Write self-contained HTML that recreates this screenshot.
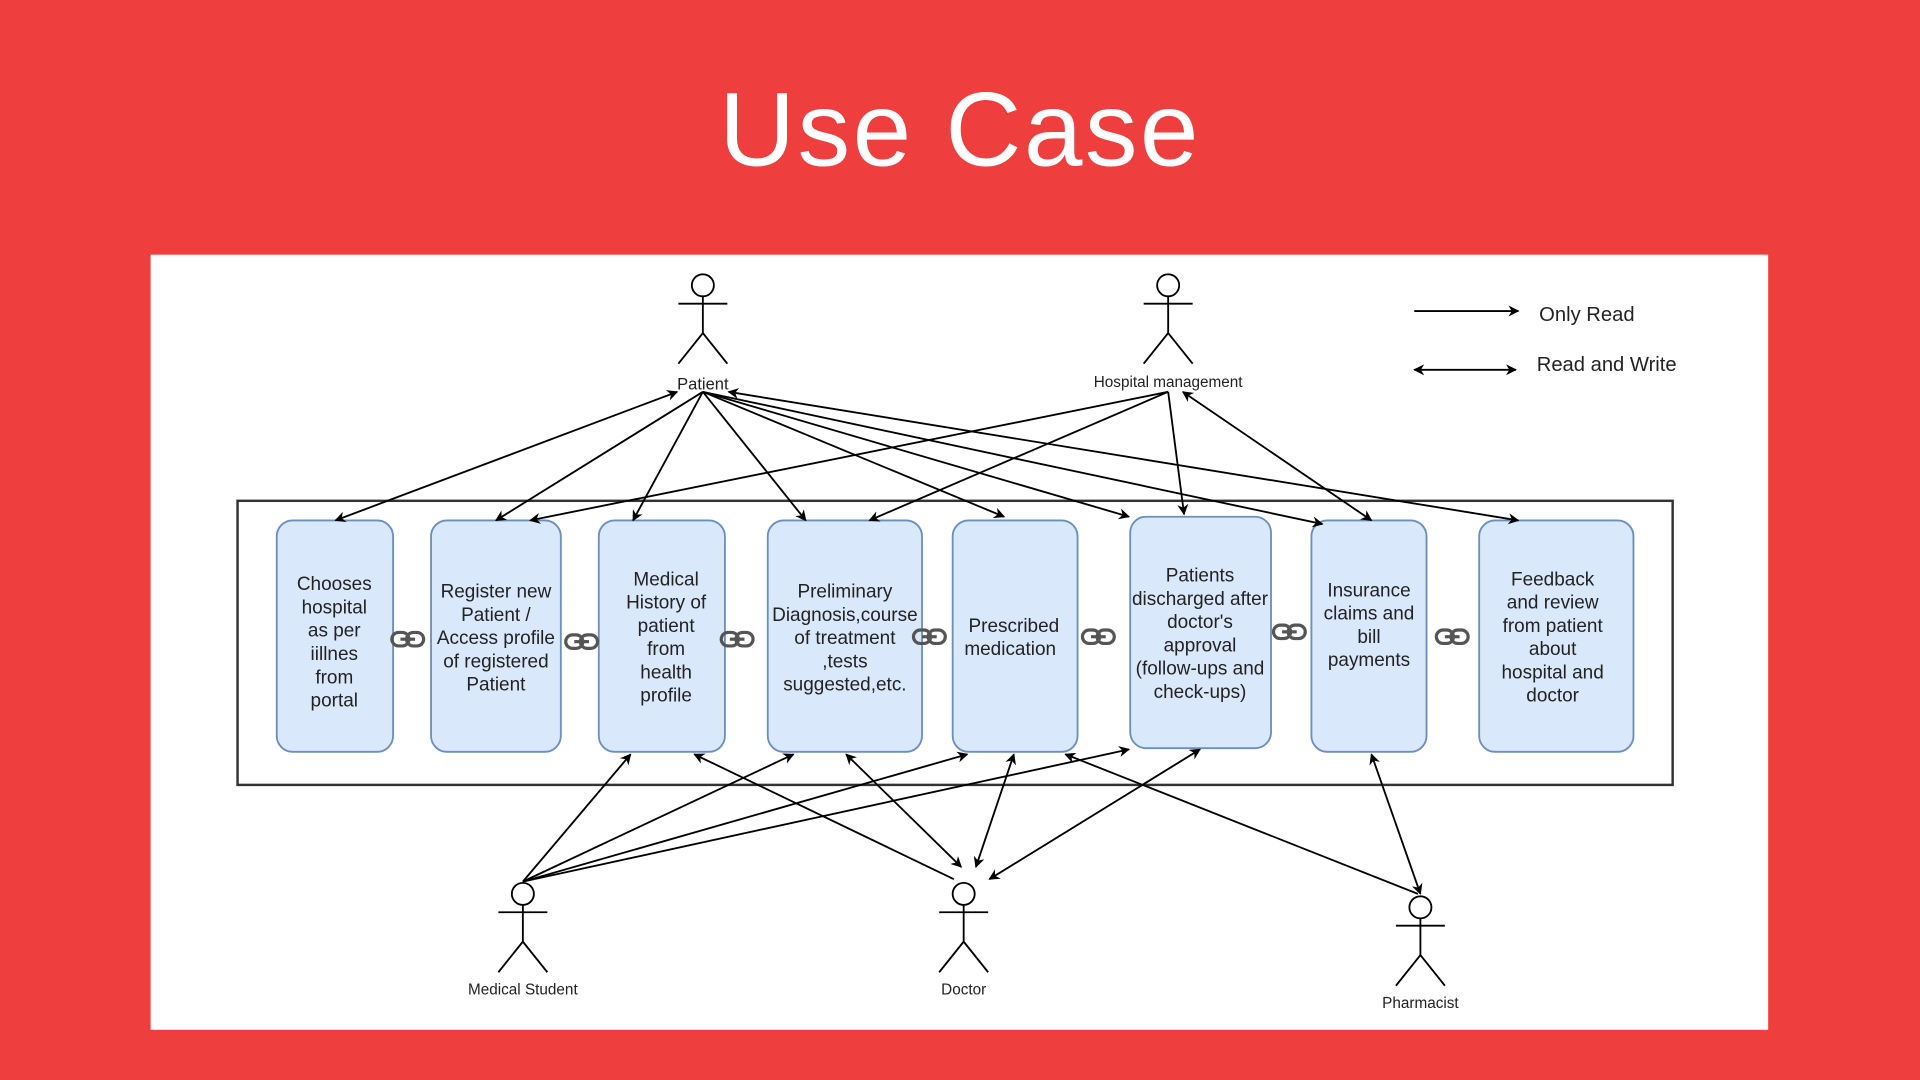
<!DOCTYPE html>
<html><head><meta charset="utf-8"><style>
html,body{margin:0;padding:0;background:#ee3e3e;}
svg{display:block}
</style></head><body>
<svg width="1920" height="1080" viewBox="0 0 1568 882" xmlns="http://www.w3.org/2000/svg" font-family="Liberation Sans, Arial, sans-serif">
<defs>
<marker id="a" viewBox="0 0 10 10" refX="9" refY="5" markerWidth="9" markerHeight="9" orient="auto-start-reverse" markerUnits="userSpaceOnUse"><path d="M0,0 L10,5 L0,10 L3,5 z" fill="#000"/></marker>
<g id="lk"><rect x="-13" y="-5.5" width="14" height="11" rx="5.5" fill="none" stroke="#555" stroke-width="2.6"/><rect x="-1" y="-5.5" width="14" height="11" rx="5.5" fill="none" stroke="#555" stroke-width="2.6"/><line x1="-6" y1="0" x2="6" y2="0" stroke="#555" stroke-width="2.6"/></g>
</defs>
<rect width="1568" height="882" fill="#ee3e3e"/>
<text x="784" y="135" text-anchor="middle" font-size="86" fill="#fff" letter-spacing="2">Use Case</text>
<rect x="123" y="208" width="1321" height="633" fill="#fff"/>
<rect x="194" y="409" width="1172" height="232" fill="none" stroke="#333" stroke-width="2"/>
<g fill="#dae8fc" stroke="#6c8ebf" stroke-width="1.5">
<rect x="226" y="425" width="95" height="189" rx="13"/>
<rect x="352" y="425" width="106" height="189" rx="13"/>
<rect x="489" y="425" width="103" height="189" rx="13"/>
<rect x="627" y="425" width="126" height="189" rx="13"/>
<rect x="778" y="425" width="102" height="189" rx="13"/>
<rect x="923" y="422" width="115" height="189" rx="13"/>
<rect x="1071" y="425" width="94" height="189" rx="13"/>
<rect x="1208" y="425" width="126" height="189" rx="13"/>
</g>
<g font-size="15.5" fill="#222" text-anchor="middle">
<text x="273" y="482">Chooses<tspan x="273" dy="19">hospital</tspan><tspan x="273" dy="19">as per</tspan><tspan x="273" dy="19">iillnes</tspan><tspan x="273" dy="19">from</tspan><tspan x="273" dy="19">portal</tspan></text>
<text x="405" y="488">Register new<tspan x="405" dy="19">Patient /</tspan><tspan x="405" dy="19">Access profile</tspan><tspan x="405" dy="19">of registered</tspan><tspan x="405" dy="19">Patient</tspan></text>
<text x="544" y="478">Medical<tspan x="544" dy="19">History of</tspan><tspan x="544" dy="19">patient</tspan><tspan x="544" dy="19">from</tspan><tspan x="544" dy="19">health</tspan><tspan x="544" dy="19">profile</tspan></text>
<text x="690" y="488">Preliminary<tspan x="690" dy="19">Diagnosis,course</tspan><tspan x="690" dy="19">of treatment</tspan><tspan x="690" dy="19">,tests</tspan><tspan x="690" dy="19">suggested,etc.</tspan></text>
<text x="828" y="516">Prescribed<tspan x="825" dy="19">medication</tspan></text>
<text x="980" y="475">Patients<tspan x="980" dy="19">discharged after</tspan><tspan x="980" dy="19">doctor's</tspan><tspan x="980" dy="19">approval</tspan><tspan x="980" dy="19">(follow-ups and</tspan><tspan x="980" dy="19">check-ups)</tspan></text>
<text x="1118" y="487">Insurance<tspan x="1118" dy="19">claims and</tspan><tspan x="1118" dy="19">bill</tspan><tspan x="1118" dy="19">payments</tspan></text>
<text x="1268" y="478">Feedback<tspan x="1268" dy="19">and review</tspan><tspan x="1268" dy="19">from patient</tspan><tspan x="1268" dy="19">about</tspan><tspan x="1268" dy="19">hospital and</tspan><tspan x="1268" dy="19">doctor</tspan></text>
</g>
<use href="#lk" x="333" y="522"/><use href="#lk" x="475" y="524"/><use href="#lk" x="602" y="522"/><use href="#lk" x="759" y="520"/><use href="#lk" x="897" y="520"/><use href="#lk" x="1053" y="516"/><use href="#lk" x="1186" y="520"/>
<g stroke="#000" stroke-width="1.5" fill="none">
<g transform="translate(574,233)"><circle r="9"/><path d="M0,9V39M-20,15H20M0,39L-20,64M0,39L20,64"/></g>
<g transform="translate(954,233)"><circle r="9"/><path d="M0,9V39M-20,15H20M0,39L-20,64M0,39L20,64"/></g>
<g transform="translate(427,730)"><circle r="9"/><path d="M0,9V39M-20,15H20M0,39L-20,64M0,39L20,64"/></g>
<g transform="translate(787,730)"><circle r="9"/><path d="M0,9V39M-20,15H20M0,39L-20,64M0,39L20,64"/></g>
<g transform="translate(1160,741)"><circle r="9"/><path d="M0,9V39M-20,15H20M0,39L-20,64M0,39L20,64"/></g>
</g>
<g font-size="12.5" fill="#222" text-anchor="middle">
<text x="574" y="318" font-size="13.5">Patient</text>
<text x="954" y="316">Hospital management</text>
<text x="427" y="812">Medical Student</text>
<text x="787" y="812">Doctor</text>
<text x="1160" y="823">Pharmacist</text>
</g>
<g stroke="#000" stroke-width="1.5" fill="none">
<line x1="1155" y1="254" x2="1240" y2="254" marker-end="url(#a)"/>
<line x1="1155" y1="302" x2="1238" y2="302" marker-start="url(#a)" marker-end="url(#a)"/>
<line x1="553" y1="320" x2="274" y2="425" marker-start="url(#a)" marker-end="url(#a)"/>
<line x1="574" y1="320" x2="405" y2="425" marker-end="url(#a)"/>
<line x1="574" y1="320" x2="517" y2="425" marker-end="url(#a)"/>
<line x1="574" y1="320" x2="658" y2="425" marker-end="url(#a)"/>
<line x1="574" y1="320" x2="820" y2="422" marker-end="url(#a)"/>
<line x1="574" y1="320" x2="922" y2="422" marker-end="url(#a)"/>
<line x1="574" y1="320" x2="1080" y2="428" marker-end="url(#a)"/>
<line x1="595" y1="320" x2="1240" y2="425" marker-start="url(#a)" marker-end="url(#a)"/>
<line x1="954" y1="320" x2="433" y2="425" marker-end="url(#a)"/>
<line x1="954" y1="320" x2="710" y2="425" marker-end="url(#a)"/>
<line x1="954" y1="320" x2="967" y2="420" marker-end="url(#a)"/>
<line x1="966" y1="320" x2="1120" y2="425" marker-start="url(#a)" marker-end="url(#a)"/>
<line x1="427" y1="720" x2="515" y2="616" marker-end="url(#a)"/>
<line x1="427" y1="720" x2="648" y2="616" marker-end="url(#a)"/>
<line x1="427" y1="720" x2="790" y2="616" marker-end="url(#a)"/>
<line x1="427" y1="720" x2="922" y2="612" marker-end="url(#a)"/>
<line x1="779" y1="718" x2="567" y2="616" marker-end="url(#a)"/>
<line x1="785" y1="708" x2="691" y2="616" marker-start="url(#a)" marker-end="url(#a)"/>
<line x1="797" y1="708" x2="828" y2="616" marker-start="url(#a)" marker-end="url(#a)"/>
<line x1="808" y1="718" x2="980" y2="612" marker-start="url(#a)" marker-end="url(#a)"/>
<line x1="1158" y1="730" x2="870" y2="616" marker-end="url(#a)"/>
<line x1="1160" y1="730" x2="1120" y2="616" marker-start="url(#a)" marker-end="url(#a)"/>
</g>
<g font-size="16.5" fill="#222">
<text x="1257" y="262">Only Read</text>
<text x="1255" y="303">Read and Write</text>
</g>
</svg>
</body></html>
